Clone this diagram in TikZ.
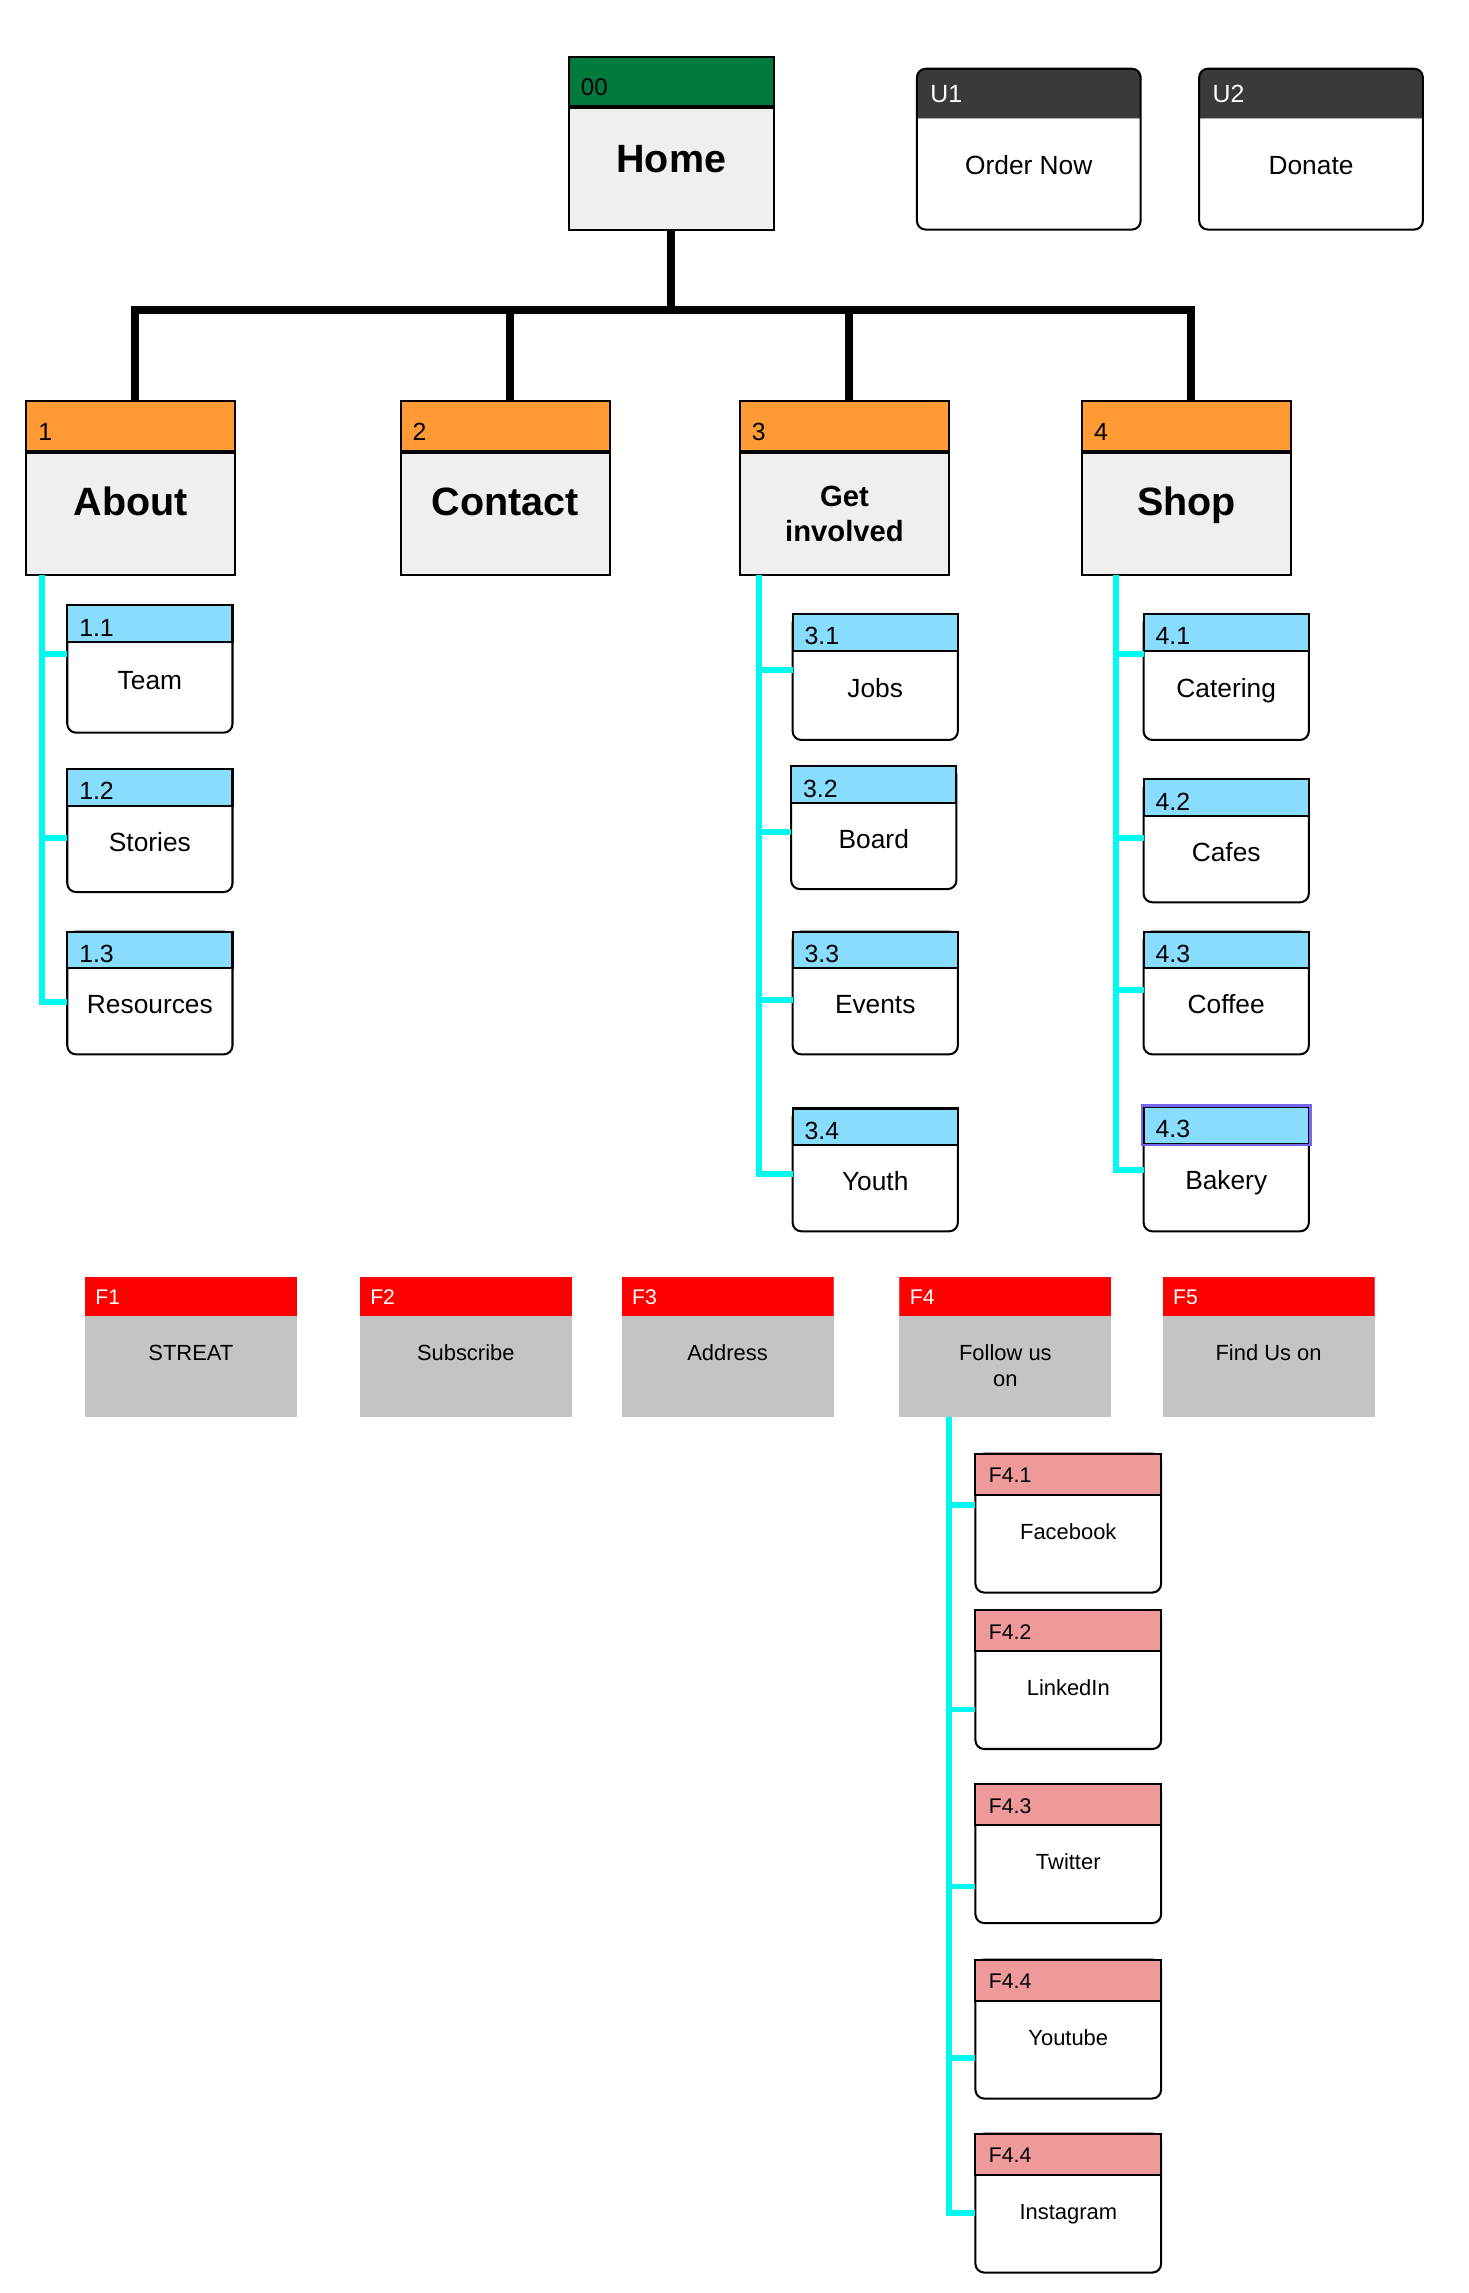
\documentclass[tikz,border=0pt]{standalone}
\usepackage{fontspec}
\setmainfont{Liberation Sans}

\definecolor{homegreen}{RGB}{0,122,61}
\definecolor{ushade}{RGB}{58,58,58}
\definecolor{orangehead}{RGB}{255,154,53}
\definecolor{lightgrey}{RGB}{239,239,239}
\definecolor{bluehead}{RGB}{136,221,255}
\definecolor{twigcyan}{RGB}{0,250,240}
\definecolor{footred}{RGB}{255,0,0}
\definecolor{footgrey}{RGB}{196,196,196}
\definecolor{pinkhead}{RGB}{238,154,154}
\definecolor{pickline}{RGB}{118,102,238}
\definecolor{ruleline}{RGB}{170,170,170}

\tikzset{
  box/.style n args={4}{draw=black, line width=1.4pt, inner sep=0pt, outer sep=0pt, anchor=north west,
    text depth=0pt, align=center,
    path picture={
      \fill[#1, sharp corners] (path picture bounding box.north west) rectangle ([yshift=-#2]path picture bounding box.north east);
      \draw[#3, line width=#4, sharp corners] ([yshift=-#2]path picture bounding box.north west) -- ([yshift=-#2]path picture bounding box.north east);}},
  main/.style={box={orangehead}{35pt}{black}{2.6pt}, fill=lightgrey, minimum width=143pt,
    minimum height=119pt, text height=38pt, font=\bfseries\fontsize{27}{32}\selectfont},
  sub/.style={box={bluehead}{25pt}{black}{1.3pt}, fill=white, rounded corners=6pt,
    minimum width=113pt, text height=28pt, font=\fontsize{18}{22}\selectfont},
  subhead/.style={draw=black, line width=1.4pt, fill=#1},
  ubox/.style={box={ushade}{34pt}{ruleline}{1pt}, fill=white, rounded corners=6pt,
    minimum width=153pt, minimum height=110pt, text height=35pt, font=\fontsize{18}{22}\selectfont},
  foot/.style={box={footred}{27pt}{draw=none}{0pt}, draw=none, fill=footgrey, minimum width=145pt,
    minimum height=96pt, text height=18.7pt, font=\fontsize{15}{18}\selectfont},
  fsub/.style={box={pinkhead}{28pt}{black}{1.3pt}, fill=white, rounded corners=6pt,
    minimum width=127pt, minimum height=95pt, text height=22pt, font=\fontsize{15}{18}\selectfont},
  tag/.style={anchor=base west, inner sep=0pt, font=\fontsize{17}{20}\selectfont},
  ftag/.style={tag, font=\fontsize{14.5}{17}\selectfont},
  trunk/.style={line width=5.5pt, black, line join=miter},
  twig/.style={line width=4pt, twigcyan, line join=miter},
  pick/.style={line width=1.8pt, pickline},
}

\begin{document}
\begin{tikzpicture}[x=1pt, y=-1pt]
  \useasboundingbox (0,0) rectangle (1004,1568);

  % top row
  \node[box={homegreen}{34pt}{black}{2.6pt}, fill=lightgrey, minimum width=140pt, minimum height=118pt,
    text height=40pt, font=\bfseries\fontsize{27}{32}\selectfont] (home) at (389,39) {Home};
  \node[tag, font=\fontsize{16.5}{20}\selectfont] (home-t) at ([xshift=8pt,yshift=-26pt]home.north west) {00};
  \node[ubox] (u1) at (627,47) {Order Now};
  \node[tag, white] (u1-t) at ([xshift=9pt,yshift=-23pt]u1.north west) {U1};
  \node[ubox] (u2) at (820,47) {Donate};
  \node[tag, white] (u2-t) at ([xshift=9pt,yshift=-23pt]u2.north west) {U2};

  % main sections
  \foreach \nm/\x/\tg/\txt in {about/18/1/About, contact/274/2/Contact, shop/740/4/Shop} {
    \node[main] (\nm) at (\x,274) {\txt};
    \node[tag] (\nm-t) at ([xshift=8pt,yshift=-27pt]\nm.north west) {\tg};
  }
  \node[main, text height=73.3pt, font=\bfseries\fontsize{20}{24}\selectfont] (getinv) at (506,274) {Get\\involved};
  \node[tag] (getinv-t) at ([xshift=8pt,yshift=-27pt]getinv.north west) {3};

  \coordinate (bar) at (0,212);
  \draw[trunk] (home.south) -- (home.south |- bar);
  \draw[trunk] ([xshift=3pt]about.north) -- ([xshift=3pt]about.north |- bar) -| ([xshift=3pt]shop.north);
  \draw[trunk] ([xshift=3pt]contact.north) -- ([xshift=3pt]contact.north |- bar);
  \draw[trunk] ([xshift=3pt]getinv.north) -- ([xshift=3pt]getinv.north |- bar);

  \coordinate (ta) at ([xshift=11pt]about.south west);
  \coordinate (tg) at ([xshift=13pt]getinv.south west);
  \coordinate (ts) at ([xshift=23pt]shop.south west);

  % sub pages
  \foreach \nm/\x/\y/\h/\tr/\br/\tg/\txt in {
      t11/46/414/87/ta/33/1.1/Team, t12/46/526/84/ta/47/1.2/Stories, t13/46/637/84/ta/48/1.3/Resources,
      t31/542/420/86/tg/38/3.1/Jobs, t32/541/524/84/tg/45/3.2/Board, t33/542/637/84/tg/47/3.3/Events,
      t34/542/758/84/tg/45/3.4/Youth,
      t41/782/420/86/ts/27/4.1/Catering, t42/782/533/84/ts/40/4.2/Cafes, t43/782/637/84/ts/40/4.3/Coffee,
      t44/782/757/85/ts/43/4.3/Bakery} {
    \node[sub, minimum height=\h pt] (\nm) at (\x,\y) {\txt};
    \draw[subhead=bluehead] (\nm.north west) rectangle ([yshift=-25pt]\nm.north east);
    \node[tag] (\nm-t) at ([xshift=8pt,yshift=-21pt]\nm.north west) {\tg};
    \draw[twig] ([yshift=-\br pt]\nm.north west) -| (\tr);
  }
  \draw[pick] ([xshift=-1pt,yshift=1pt]t44.north west) rectangle ([xshift=1pt,yshift=-26pt]t44.north east);

  % footer
  \foreach \nm/\x/\tg/\txt in {f1/58/F1/STREAT, f2/246/F2/Subscribe, f3/425/F3/Address, f5/795/F5/Find Us on} {
    \node[foot] (\nm) at (\x,873) {\txt};
    \node[ftag, white] (\nm-t) at ([xshift=7pt,yshift=-19pt]\nm.north west) {\tg};
  }
  \node[foot, text height=54.7pt] (f4) at (615,873) {Follow us\\on};
  \node[ftag, white] (f4-t) at ([xshift=7pt,yshift=-19pt]f4.north west) {F4};
  \coordinate (tf) at ([xshift=34pt]f4.south west);

  \foreach \nm/\y/\br/\tg/\txt in {s1/994/35/F4.1/Facebook, s2/1101/68/F4.2/LinkedIn, s3/1220/70/F4.3/Twitter,
      s4/1340/67/F4.4/Youtube, s5/1459/54/F4.4/Instagram} {
    \node[fsub] (\nm) at (667,\y) {\txt};
    \draw[subhead=pinkhead] (\nm.north west) rectangle ([yshift=-28pt]\nm.north east);
    \node[ftag] (\nm-t) at ([xshift=9pt,yshift=-20pt]\nm.north west) {\tg};
    \draw[twig] ([yshift=-\br pt]\nm.north west) -| (tf);
  }
\end{tikzpicture}
\end{document}
